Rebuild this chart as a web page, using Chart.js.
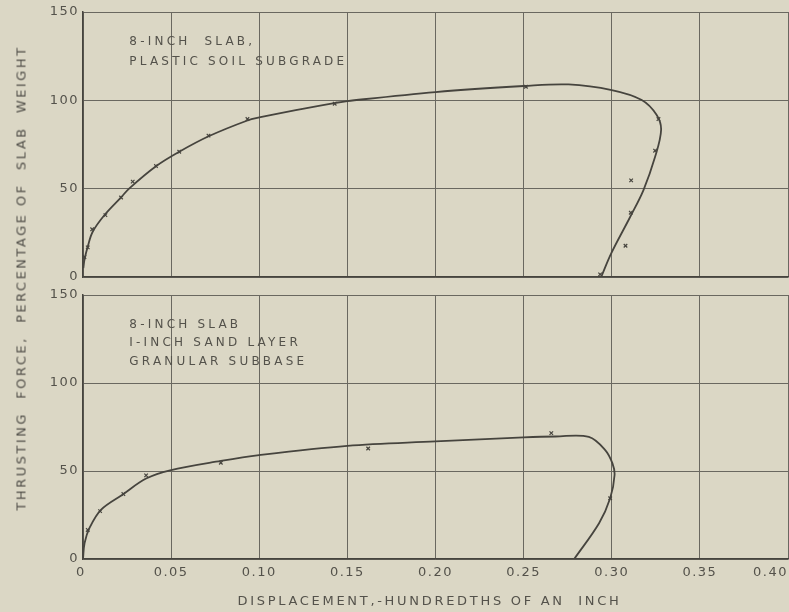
<!DOCTYPE html>
<html>
<head>
<meta charset="utf-8">
<script src="https://cdn.jsdelivr.net/npm/chart.js@4.4.1/dist/chart.umd.min.js"></script>
<style>
    body { margin: 0; background: #dbd7c5; }
    #wrap { position: relative; width: 789px; height: 612px; background: #dbd7c5; overflow: hidden;
            font-family: "DejaVu Sans", sans-serif; color: #504e48; }
    #topBox { position: absolute; left: 0; top: 0; width: 789px; height: 283px; }
    #botBox { position: absolute; left: 0; top: 283px; width: 789px; height: 329px; }
    #yTitle { position: absolute; left: 21px; top: 278px; transform: translate(-50%, -50%) rotate(-90deg);
              white-space: nowrap; font-size: 13px; letter-spacing: 2.5px; }
</style>
</head>
<body>
<div id="wrap">
    <div id="topBox"><canvas id="topChart" width="789" height="283"></canvas></div>
    <div id="botBox"><canvas id="botChart" width="789" height="329"></canvas></div>
    <div id="yTitle">THRUSTING&nbsp; FORCE,&nbsp; PERCENTAGE OF&nbsp; SLAB&nbsp; WEIGHT</div>
</div>
<script>
// Thrust vs displacement, two slab tests

const xTickValues = [0, 0.05, 0.10, 0.15, 0.20, 0.25, 0.30, 0.35, 0.40];
const xTickLabels = ['0', '0.05', '0.10', '0.15', '0.20', '0.25', '0.30', '0.35', '0.40'];
const yTickValues = [0, 50, 100, 150];

// plastic soil subgrade - faired curve and test readings
const topCurveX = [0.0002, 0.0008, 0.0027, 0.0055, 0.0122, 0.0216, 0.0263, 0.0414, 0.0546, 0.0716, 0.0933, 0.1, 0.1207, 0.1434, 0.15, 0.2, 0.25, 0.2755, 0.30, 0.317, 0.3255, 0.328, 0.3246, 0.318, 0.3105, 0.2997, 0.294];
const topCurveY = [5, 9.6, 17.2, 25.6, 35.1, 45.1, 50.2, 62.7, 70.9, 79.8, 88.6, 90.3, 94.5, 98.6, 99.6, 104.7, 108.1, 109, 105.8, 100.2, 91.7, 83.2, 68, 49.2, 34.1, 13.4, 0];
const topMarkX = [0.0008, 0.0027, 0.0052, 0.0127, 0.0216, 0.0282, 0.0414, 0.0546, 0.0712, 0.0933, 0.1428, 0.2513, 0.3265, 0.3246, 0.311, 0.3108, 0.3078, 0.2934];
const topMarkY = [11.3, 16.8, 27, 35, 45, 54, 62.8, 70.9, 80, 89.4, 98.1, 107.7, 89.4, 71.5, 54.7, 36.4, 17.7, 1.5];

// sand layer on granular subbase
const botCurveX = [0, 0.0009, 0.0037, 0.0103, 0.0226, 0.0358, 0.0494, 0.0782, 0.0999, 0.15, 0.2, 0.25, 0.268, 0.287, 0.2963, 0.3004, 0.3016, 0.2991, 0.2928, 0.2787];
const botCurveY = [0, 9.1, 17.7, 28.1, 36.7, 45.7, 50.4, 55.7, 59, 64.3, 66.8, 69.1, 69.6, 69.4, 61.9, 54.3, 47.7, 34.5, 20.3, 0];
const botMarkX = [0.0027, 0.0097, 0.0229, 0.0358, 0.0782, 0.1618, 0.2657, 0.2991];
const botMarkY = [16.5, 27.2, 36.9, 47.5, 54.7, 62.8, 71.5, 34.5];

const topNote = ['8-INCH  SLAB,', 'PLASTIC SOIL SUBGRADE'];
const botNote = ['8-INCH SLAB', 'I-INCH SAND LAYER', 'GRANULAR SUBBASE'];
const xTitle = 'DISPLACEMENT,-HUNDREDTHS OF AN  INCH';

const INK = '#46443e';
const GRID = '#6a6860';
const TEXT = '#54524b';
const FONT = '"DejaVu Sans", sans-serif';

function zip(xs, ys) {
    return xs.map((x, i) => ({ x: x, y: ys[i] }));
}

// block of text placed at a data position (x, y = centre of first line)
const notePlugin = {
    id: 'note',
    beforeDraw(chart) {
        // hand-lettered look: spread out every label a little
        chart.ctx.letterSpacing = '1.5px';
    },
    afterDatasetsDraw(chart, args, opts) {
        const ctx = chart.ctx;
        const px = chart.scales.x.getPixelForValue(opts.x);
        const py = chart.scales.y.getPixelForValue(opts.y);
        ctx.save();
        ctx.letterSpacing = '3.2px';
        ctx.font = '12px ' + FONT;
        ctx.fillStyle = TEXT;
        ctx.textBaseline = 'middle';
        opts.lines.forEach((line, i) => ctx.fillText(line, px, py + i * opts.gap));
        ctx.restore();
    }
};

// x tick labels and axis title, kept inside the canvas at the right end
const xLabelPlugin = {
    id: 'xLabels',
    afterDraw(chart, args, opts) {
        if (!opts.show) return;
        const ctx = chart.ctx;
        const scale = chart.scales.x;
        const area = chart.chartArea;
        ctx.save();
        ctx.letterSpacing = '1.5px';
        ctx.font = '13px ' + FONT;
        ctx.fillStyle = TEXT;
        ctx.textBaseline = 'middle';
        ctx.textAlign = 'left';
        xTickValues.forEach((v, i) => {
            let px = scale.getPixelForValue(v);
            const w = ctx.measureText(xTickLabels[i]).width;
            px -= w / 2;
            if (i === 0) px -= 2;
            if (px + w > chart.width - 1) px = chart.width - 1 - w;
            ctx.fillText(xTickLabels[i], px, area.bottom + 14);
        });
        ctx.letterSpacing = '2.7px';
        const tw = ctx.measureText(xTitle).width;
        ctx.fillText(xTitle, (area.left + area.right) / 2 - 6 - tw / 2, area.bottom + 43);
        ctx.restore();
    }
};

function makePanel(canvasId, curve, marks, note, isBottom) {
    const ctx = document.getElementById(canvasId).getContext('2d');
    return new Chart(ctx, {
        type: 'scatter',
        data: {
            datasets: [{
                data: curve,
                showLine: true,
                borderColor: INK,
                borderWidth: 1.8,
                tension: 0.35,
                pointRadius: 0
            }, {
                data: marks,
                showLine: false,
                pointStyle: 'crossRot',
                pointRadius: 2.5,
                borderColor: INK,
                borderWidth: 1.2
            }]
        },
        plugins: [notePlugin, xLabelPlugin],
        options: {
            responsive: false,
            animation: false,
            layout: {
                autoPadding: false,
                padding: { top: 12, right: 1, bottom: isBottom ? 0 : 6, left: 0 }
            },
            scales: {
                x: {
                    type: 'linear',
                    min: 0,
                    max: 0.4,
                    afterBuildTicks: s => { s.ticks = xTickValues.map(v => ({ value: v })); },
                    afterFit: s => {
                        s.height = isBottom ? 53 : 0;
                        s.paddingLeft = 0;
                        s.paddingRight = 0;
                    },
                    ticks: { display: false },
                    grid: { color: GRID, lineWidth: 1, drawTicks: false },
                    border: { color: INK, width: 1.5 }
                },
                y: {
                    min: 0,
                    max: 150,
                    afterBuildTicks: s => { s.ticks = yTickValues.map(v => ({ value: v })); },
                    afterFit: s => {
                        s.width = 83;
                        s.paddingTop = 0;
                        s.paddingBottom = 0;
                    },
                    ticks: { color: TEXT, font: { family: FONT, size: 13 }, padding: 4 },
                    grid: { color: GRID, lineWidth: 1, drawTicks: false },
                    border: { color: INK, width: 1.5 }
                }
            },
            plugins: {
                legend: { display: false },
                tooltip: { enabled: false },
                note: { x: 0.0263, y: 133.2, lines: note, gap: isBottom ? 18.5 : 20 },
                xLabels: { show: isBottom }
            }
        }
    });
}

makePanel('topChart', zip(topCurveX, topCurveY), zip(topMarkX, topMarkY), topNote, false);
makePanel('botChart', zip(botCurveX, botCurveY), zip(botMarkX, botMarkY), botNote, true);
</script>
</body>
</html>
